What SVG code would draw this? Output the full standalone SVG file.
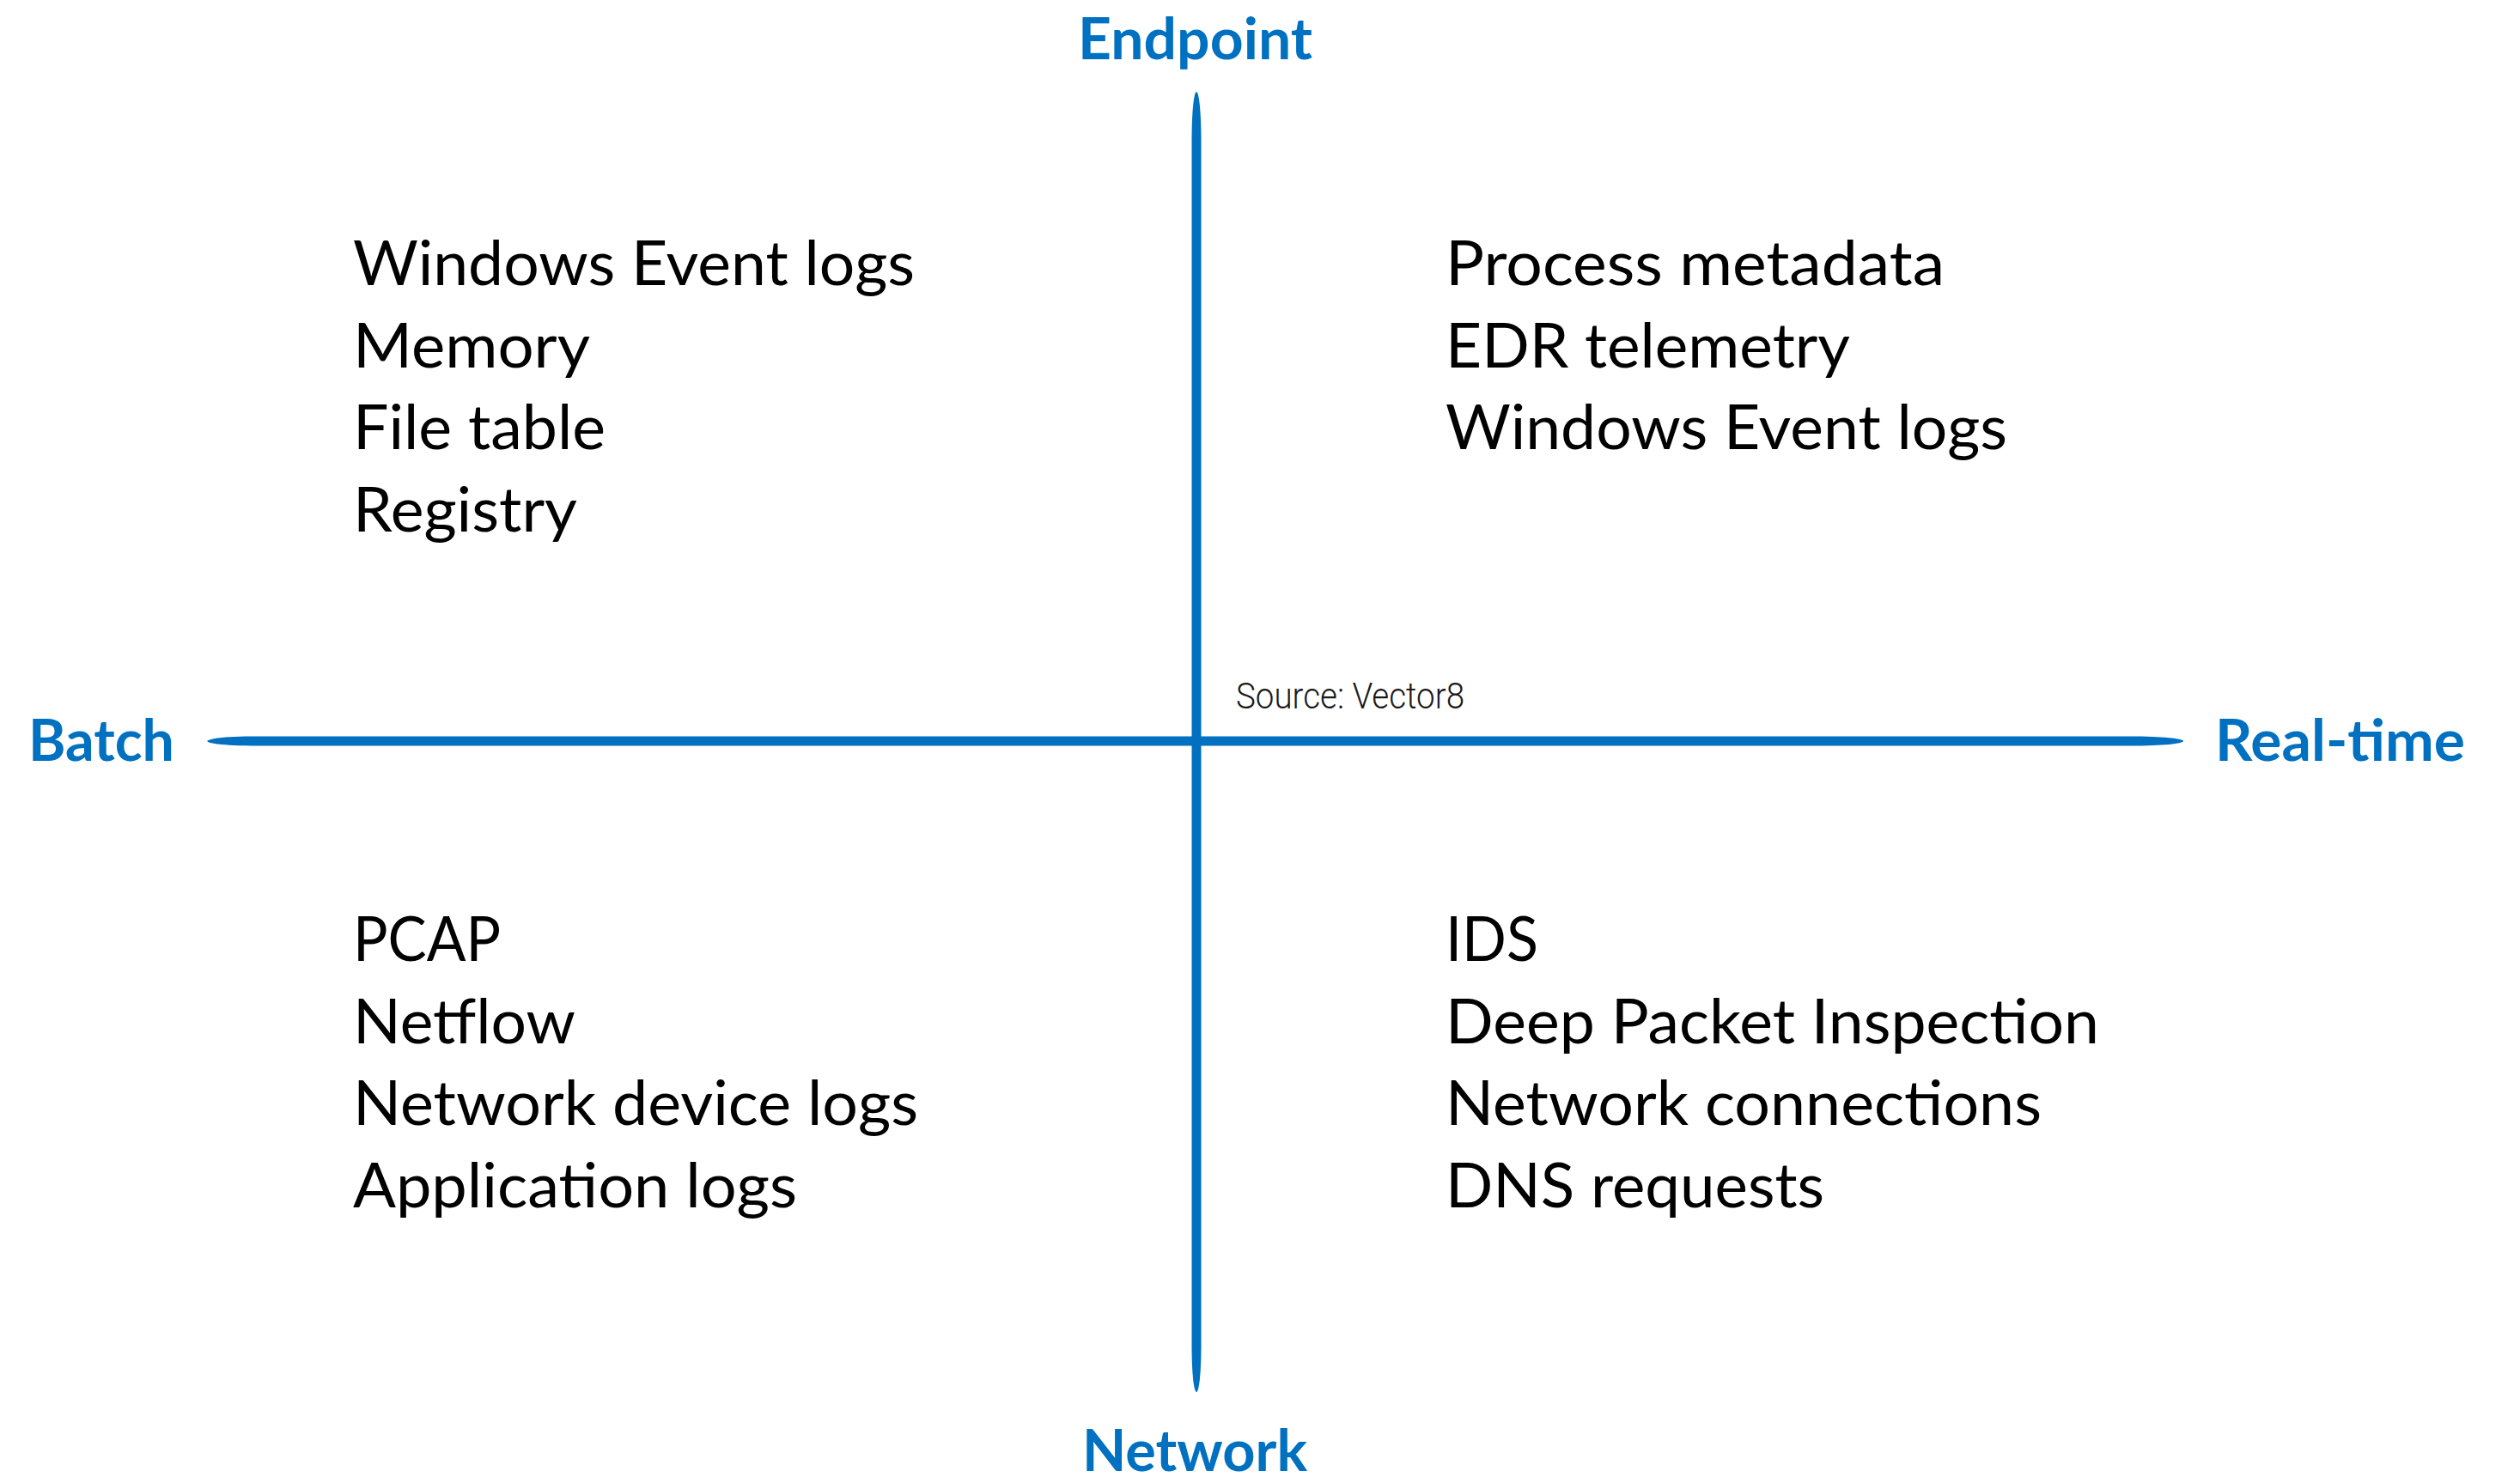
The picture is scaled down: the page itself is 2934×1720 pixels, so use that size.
<svg xmlns="http://www.w3.org/2000/svg" width="2934" height="1720" viewBox="0 0 2934 1720">
  <style>
    .axis { fill: #0070C0; }
    .pole { font-family: Lato, "Open Sans", "Liberation Sans", sans-serif; font-weight: 700; font-size: 66px; fill: #0070C0; }
    .item { font-family: Lato, "Open Sans", "Liberation Sans", sans-serif; font-weight: 400; font-size: 72px; fill: #000000; }
    .note { font-family: Roboto, "Liberation Sans", sans-serif; font-weight: 300; font-size: 42px; fill: #1a1a1a; }
  </style>
  <rect width="2934" height="1720" fill="#ffffff"/>

  <!-- tapered quadrant axes -->
  <g id="axes">
    <path class="axis" d="M241,863 C244,859.5 265,857.5 300,857.5 L2480,857.5 C2518,857.5 2542,860 2542,863 C2542,866 2518,868.5 2480,868.5 L300,868.5 C265,868.5 244,866.5 241,863 Z"/>
    <path class="axis" d="M1393,107 C1396,107 1398.5,130 1398.5,165 L1398.5,1565 C1398.5,1600 1396,1621 1393,1621 C1390,1621 1387.5,1600 1387.5,1565 L1387.5,165 C1387.5,130 1390,107 1393,107 Z"/>
  </g>

  <!-- axis pole labels -->
  <g id="pole-endpoint"><text class="pole" x="1255" y="69" textLength="273" lengthAdjust="spacingAndGlyphs">Endpoint</text></g>
  <g id="pole-network"><text class="pole" x="1260" y="1713" textLength="262" lengthAdjust="spacingAndGlyphs">Network</text></g>
  <g id="pole-batch"><text class="pole" x="33" y="886" textLength="170" lengthAdjust="spacingAndGlyphs">Batch</text></g>
  <g id="pole-realtime"><text class="pole" x="2579" y="886" textLength="291" lengthAdjust="spacingAndGlyphs">Real-time</text></g>

  <g id="source-note"><text class="note" x="1439" y="825" textLength="266" lengthAdjust="spacingAndGlyphs">Source: Vector8</text></g>

  <!-- endpoint / batch -->
  <g id="q-endpoint-batch">
    <text class="item" x="411" y="332" textLength="654" lengthAdjust="spacingAndGlyphs">Windows Event logs</text>
    <text class="item" x="411" y="428" textLength="276" lengthAdjust="spacingAndGlyphs">Memory</text>
    <text class="item" x="411" y="523" textLength="294" lengthAdjust="spacingAndGlyphs">File table</text>
    <text class="item" x="411" y="619" textLength="261" lengthAdjust="spacingAndGlyphs">Registry</text>
  </g>

  <!-- endpoint / real-time -->
  <g id="q-endpoint-realtime">
    <text class="item" x="1683" y="332" textLength="581" lengthAdjust="spacingAndGlyphs">Process metadata</text>
    <text class="item" x="1683" y="428" textLength="471" lengthAdjust="spacingAndGlyphs">EDR telemetry</text>
    <text class="item" x="1683" y="523" textLength="654" lengthAdjust="spacingAndGlyphs">Windows Event logs</text>
  </g>

  <!-- network / batch -->
  <g id="q-network-batch">
    <text class="item" x="411" y="1119" textLength="172" lengthAdjust="spacingAndGlyphs">PCAP</text>
    <text class="item" x="411" y="1215" textLength="259" lengthAdjust="spacingAndGlyphs">Netflow</text>
    <text class="item" x="411" y="1310" textLength="658" lengthAdjust="spacingAndGlyphs">Network device logs</text>
    <text class="item" x="411" y="1406" textLength="517" lengthAdjust="spacingAndGlyphs">Application logs</text>
  </g>

  <!-- network / real-time -->
  <g id="q-network-realtime">
    <text class="item" x="1683" y="1119" textLength="108" lengthAdjust="spacingAndGlyphs">IDS</text>
    <text class="item" x="1683" y="1215" textLength="761" lengthAdjust="spacingAndGlyphs">Deep Packet Inspection</text>
    <text class="item" x="1683" y="1310" textLength="694" lengthAdjust="spacingAndGlyphs">Network connections</text>
    <text class="item" x="1683" y="1406" textLength="441" lengthAdjust="spacingAndGlyphs">DNS requests</text>
  </g>
</svg>
